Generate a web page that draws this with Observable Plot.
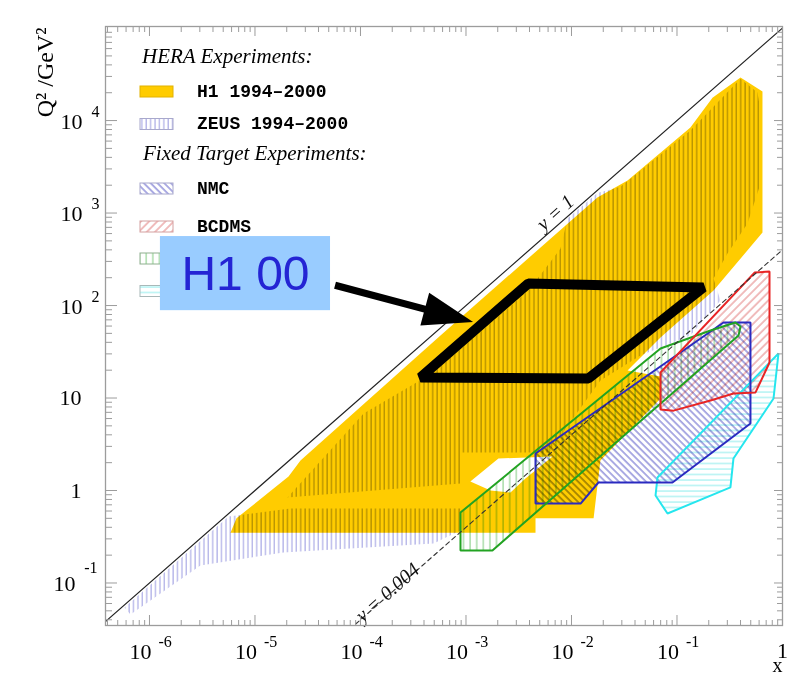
<!DOCTYPE html>
<html>
<head>
<meta charset="utf-8">
<script src="https://cdn.jsdelivr.net/npm/d3@7"></script>
<script src="https://cdn.jsdelivr.net/npm/@observablehq/plot@0.6"></script>
<style>
html, body { margin: 0; padding: 0; background: #fff; }
#chart svg { display: block; }
</style>
</head>
<body>
<div id="chart"></div>
<script>
// ---------------- data (x, Q^2 in GeV^2) ----------------
const xDomain = [3.83e-7, 1];
const yDomain = [0.0347, 1.04e5];

const h1Region = [[5.86e-6,0.35],[6.68e-6,0.50],[2.08e-5,1.42],[2.70e-5,2.11],[5.73e-4,47.4],[1.76e-2,1472],[0.034,2245],[0.134,8400],[0.217,17700],[0.400,29200],[0.646,20600],[0.646,615],[0.222,145],[0.0698,45.1],[0.034,19.8],[0.0698,17.1],[0.0698,9.88],[0.0188,2.11],[0.0162,0.50],[4.56e-3,0.50],[4.56e-3,0.35]];
const h1Gap = [[1.10e-3,1.25],[2.03e-3,2.22],[6.61e-3,2.33],[3.66e-3,1.35],[2.64e-3,0.95],[1.71e-3,1.0]];
const zeusUpper = [[2.03e-5,0.84],[1.07e-4,6.8],[4.92e-4,18.9],[3.91e-3,145],[7.87e-3,413],[9.16e-3,872],[0.0176,1650],[0.0291,1930],[0.134,7800],[0.400,28400],[0.579,20100],[0.619,12800],[0.619,2080],[0.466,770],[0.301,365],[0.222,196],[0.258,113],[0.134,47.4],[0.0451,28.8],[0.0188,15.5],[6.05e-3,2.58],[8.87e-4,2.58],[8.87e-4,1.19]];
const zeusLower = [[5.79e-7,0.0543],[5.61e-6,0.524],[2.17e-5,0.639],[8.87e-4,0.639],[8.87e-4,0.37],[4.92e-4,0.267],[1.86e-5,0.214],[3.04e-6,0.155],[6.61e-7,0.0456]];
const e665Region = [[8.87e-4,0.578],[0.0698,34.3],[0.113,41.9],[0.208,53.7],[0.358,65.5],[0.400,59.3],[0.383,47.4],[1.78e-3,0.225],[8.87e-4,0.225]];
const nmcRegion = [[4.56e-3,2.51],[0.276,65.5],[0.497,65.5],[0.497,5.3],[0.0906,1.22],[0.018,1.22],[0.0122,0.723],[4.56e-3,0.723]];
const bcdmsRegion = [[0.0698,18.9],[0.543,227],[0.753,233],[0.753,24.2],[0.555,11.5],[0.343,11.2],[0.208,9.4],[0.0927,7.3],[0.0698,7.5]];
const slacRegion = [[0.0653,1.38],[0.916,30.3],[0.822,9.88],[0.343,2.22],[0.321,1.08],[0.0813,0.564],[0.0626,0.883]];
const h1New = [[3.7e-4,16.7],[3.9e-3,173],[0.178,157],[0.0145,16.3]];

const lineY1 = [[3.6e-7,0.036],[1,1.0e5]];
const lineY0004 = [[9.0e-5,0.036],[1,400]];
const yLineLabelText = ["y = 1", "y = 0.004"];
const yLineLabelX = [7.05e-3, 1.8e-4];
const yLineLabelQ2 = [1011, 0.0789];

const h1Box = {x1: 1.27e-6, x2: 5.2e-5, q1: 88, q2: 557};
const h1BoxLabel = {x: 8.13e-6, q2: 215, text: "H1 00"};
const arrowFrom = [5.8e-5, 164];
const arrowTo = [1.18e-3, 65.5];

const xTickValues = [1e-6, 1e-5, 1e-4, 1e-3, 1e-2, 1e-1, 1];
const xTickBases = ["10","10","10","10","10","10","1"];
const xTickExps = ["-6","-5","-4","-3","-2","-1",""];
const yTickValues = [0.1, 1, 10, 100, 1000, 10000];
const yTickBases = ["10","1","10","10","10","10"];
const yTickExps = ["-1","","","2","3","4"];

const heraHeading = "HERA Experiments:";
const fixedHeading = "Fixed Target Experiments:";
const heraLabels = ["H1 1994\u20132000", "ZEUS 1994\u20132000"];
const fixedLabels = ["NMC", "BCDMS", "E665", "SLAC"];

const xTitle = "x";
const yTitle = "Q\u00B2 /GeV\u00B2";

// ---------------- helpers ----------------
const W = 794, H = 674;
const mT = 26, mR = 12, mB = 49, mL = 105;
const frameW = W - mL - mR, frameH = H - mT - mB;
const gray = "#9c9c9c";
const rows = (pts, name) => pts.map(([x, q2]) => ({x, q2, name}));

const xMinor = [], yMinor = [];
for (let e = -7; e <= -1; e++) for (let m = 2; m <= 9; m++) { const v = m * Math.pow(10, e); if (v > xDomain[0] && v < xDomain[1]) xMinor.push(v); }
for (let e = -2; e <= 4; e++) for (let m = 2; m <= 9; m++) { const v = m * Math.pow(10, e); if (v > yDomain[0] && v < yDomain[1]) yMinor.push(v); }
const xMajor = xTickValues.filter(v => v < 1);
const yMajor = yTickValues;

const xLab = xTickValues.map((v, i) => ({v, base: xTickBases[i], exp: xTickExps[i]}));
const yLab = yTickValues.map((v, i) => ({v, base: yTickBases[i], exp: yTickExps[i]}));
const lineLabels = yLineLabelText.map((t, i) => ({t, x: yLineLabelX[i], q2: yLineLabelQ2[i]}));

const hatch = {
  zeus: {id: "zeusHatch", w: 4.4, h: 10, rot: 0, d: "M1,0V10", c: "#9a9ae0"},
  nmc: {id: "nmcHatch", w: 4.8, h: 10, rot: -45, d: "M1,0V10", c: "#5b5bc8"},
  bcdms: {id: "bcdmsHatch", w: 5.8, h: 10, rot: 45, d: "M1,0V10", c: "#e27c7c"},
  e665: {id: "e665Hatch", w: 6.6, h: 10, rot: 0, d: "M1,0V10", c: "#7fca7f"},
  slac: {id: "slacHatch", w: 10, h: 5.5, rot: 0, d: "M0,1H10", c: "#8deded"}
};

function defsMark() {
  const g = d3.create("svg:g");
  const defs = g.append("defs");
  for (const k in hatch) {
    const p = hatch[k];
    const pat = defs.append("pattern").attr("id", p.id).attr("patternUnits", "userSpaceOnUse")
      .attr("width", p.w).attr("height", p.h);
    if (p.rot) pat.attr("patternTransform", `rotate(${p.rot})`);
    pat.append("path").attr("d", p.d).attr("stroke", p.c).attr("stroke-width", 1).attr("fill", "none");
  }
  return g.node();
}

function legendMark() {
  const g = d3.create("svg:g").attr("text-anchor", "start");
  const sx = 140, sw = 33, tx = 197;
  g.append("text").attr("x", 142).attr("y", 63).attr("font-family", "Liberation Serif")
    .attr("text-anchor", "start").attr("font-style", "italic").attr("font-size", 21).text(heraHeading);
  g.append("text").attr("x", 143).attr("y", 160).attr("font-family", "Liberation Serif")
    .attr("text-anchor", "start").attr("font-style", "italic").attr("font-size", 21).text(fixedHeading);
  const items = [
    {label: heraLabels[0], y: 86, fill: "#ffcc00", stroke: "#e2b200"},
    {label: heraLabels[1], y: 118.5, fill: `url(#${hatch.zeus.id})`, stroke: "#a8a8cc"},
    {label: fixedLabels[0], y: 183, fill: `url(#${hatch.nmc.id})`, stroke: "#a8a8cc"},
    {label: fixedLabels[1], y: 221, fill: `url(#${hatch.bcdms.id})`, stroke: "#d4a0a0"},
    {label: fixedLabels[2], y: 253, fill: `url(#${hatch.e665.id})`, stroke: "#8fb08f"},
    {label: fixedLabels[3], y: 285.5, fill: `url(#${hatch.slac.id})`, stroke: "#a8b8b8"}
  ];
  for (const it of items) {
    g.append("rect").attr("x", sx).attr("y", it.y).attr("width", sw).attr("height", 11)
      .attr("fill", "white").attr("stroke", "none");
    g.append("rect").attr("x", sx).attr("y", it.y).attr("width", sw).attr("height", 11)
      .attr("fill", it.fill).attr("stroke", it.stroke).attr("stroke-width", 1);
    g.append("text").attr("x", tx).attr("y", it.y + 10.5).attr("font-family", "Liberation Mono")
      .attr("text-anchor", "start").attr("font-weight", "bold").attr("font-size", 18).text(it.label);
  }
  return g.node();
}

function arrowMark(index, scales) {
  const x0 = scales.x(arrowFrom[0]), y0 = scales.y(arrowFrom[1]);
  const x1 = scales.x(arrowTo[0]), y1 = scales.y(arrowTo[1]);
  const dx = x1 - x0, dy = y1 - y0, len = Math.hypot(dx, dy);
  const ux = dx / len, uy = dy / len, nx = -uy, ny = ux;
  const headL = 50, headW = 17, shaftW = 3.6;
  const bx = x1 - ux * headL, by = y1 - uy * headL;
  const pts = [
    [x0 + nx * shaftW, y0 + ny * shaftW], [bx + nx * shaftW, by + ny * shaftW],
    [bx + nx * headW, by + ny * headW], [x1, y1],
    [bx - nx * headW, by - ny * headW], [bx - nx * shaftW, by - ny * shaftW],
    [x0 - nx * shaftW, y0 - ny * shaftW]
  ];
  return d3.create("svg:path").attr("d", "M" + pts.map(p => p.join(",")).join("L") + "Z")
    .attr("fill", "black").node();
}

const serif = "Liberation Serif";

const fillPoly = (pts, fill, extra = {}) =>
  Plot.line(rows(pts), {x: "x", y: "q2", fill, stroke: "none", curve: "linear-closed", ...extra});
const outlinePoly = (pts, stroke) =>
  Plot.line(rows(pts), {x: "x", y: "q2", stroke, strokeWidth: 2, fill: "none", curve: "linear-closed", strokeLinejoin: "miter"});

const chart = Plot.plot({
  width: W, height: H,
  marginTop: mT, marginRight: mR, marginBottom: mB, marginLeft: mL,
  x: {type: "log", domain: xDomain, axis: null},
  y: {type: "log", domain: yDomain, axis: null},
  style: {fontFamily: serif, background: "white", overflow: "visible"},
  marks: [
    defsMark,
    fillPoly(h1Region, "#ffcc00"),
    fillPoly(h1Gap, "white"),
    Plot.line([...rows(zeusUpper, "upper"), ...rows(zeusLower, "lower")],
      {x: "x", y: "q2", z: "name", fill: `url(#${hatch.zeus.id})`, stroke: "none", curve: "linear-closed", mixBlendMode: "multiply"}),
    fillPoly(nmcRegion, `url(#${hatch.nmc.id})`, {mixBlendMode: "multiply"}),
    fillPoly(bcdmsRegion, `url(#${hatch.bcdms.id})`, {mixBlendMode: "multiply"}),
    fillPoly(e665Region, `url(#${hatch.e665.id})`, {mixBlendMode: "multiply"}),
    fillPoly(slacRegion, `url(#${hatch.slac.id})`, {mixBlendMode: "multiply"}),
    outlinePoly(slacRegion, "#25e6ee"),
    outlinePoly(nmcRegion, "#2a2ac0"),
    outlinePoly(e665Region, "#22a322"),
    outlinePoly(bcdmsRegion, "#e82525"),
    Plot.line(rows(lineY1), {x: "x", y: "q2", stroke: "#222", strokeWidth: 1.2, clip: true}),
    Plot.line(rows(lineY0004), {x: "x", y: "q2", stroke: "#333", strokeWidth: 1.1, strokeDasharray: "4.5,3.5", clip: true}),
    Plot.text(lineLabels, {x: "x", y: "q2", text: "t", rotate: -41.5, fontStyle: "italic", fontSize: 20, fontFamily: serif, fill: "#111"}),
    // frame and ticks
    Plot.frame({stroke: gray, strokeWidth: 1.3}),
    Plot.ruleX(xMajor, {insetTop: frameH - 10, stroke: gray}),
    Plot.ruleX(xMinor, {insetTop: frameH - 5, stroke: gray}),
    Plot.ruleX(xMajor, {insetBottom: frameH - 10, stroke: gray}),
    Plot.ruleX(xMinor, {insetBottom: frameH - 6, stroke: gray}),
    Plot.ruleY(yMajor, {insetRight: frameW - 12, stroke: gray}),
    Plot.ruleY(yMinor, {insetRight: frameW - 7, stroke: gray}),
    Plot.ruleY(yMajor, {insetLeft: frameW - 8, stroke: gray}),
    Plot.ruleY(yMinor, {insetLeft: frameW - 5, stroke: gray}),
    // x tick labels
    Plot.text(xLab.filter(d => d.exp), {x: "v", text: "base", frameAnchor: "bottom", textAnchor: "end", lineAnchor: "bottom", dx: 2, dy: 33, fontSize: 22, fontFamily: serif, fill: "black"}),
    Plot.text(xLab.filter(d => d.exp), {x: "v", text: "exp", frameAnchor: "bottom", textAnchor: "start", lineAnchor: "bottom", dx: 9, dy: 21, fontSize: 16, fontFamily: serif, fill: "black"}),
    Plot.text(xLab.filter(d => !d.exp), {x: "v", text: "base", frameAnchor: "bottom", textAnchor: "middle", lineAnchor: "bottom", dy: 32, fontSize: 22, fontFamily: serif, fill: "black"}),
    // y tick labels
    Plot.text(yLab.filter(d => d.exp.length === 1), {y: "v", text: "base", frameAnchor: "left", textAnchor: "end", lineAnchor: "bottom", dx: -23, dy: 8, fontSize: 22, fontFamily: serif, fill: "black"}),
    Plot.text(yLab.filter(d => d.exp.length === 2), {y: "v", text: "base", frameAnchor: "left", textAnchor: "end", lineAnchor: "bottom", dx: -30, dy: 8, fontSize: 22, fontFamily: serif, fill: "black"}),
    Plot.text(yLab.filter(d => !d.exp), {y: "v", text: "base", frameAnchor: "left", textAnchor: "end", lineAnchor: "bottom", dx: -24, dy: 7, fontSize: 22, fontFamily: serif, fill: "black"}),
    Plot.text(yLab.filter(d => d.exp.length === 1), {y: "v", text: "exp", frameAnchor: "left", textAnchor: "end", lineAnchor: "bottom", dx: -6, dy: -4, fontSize: 16, fontFamily: serif, fill: "black"}),
    Plot.text(yLab.filter(d => d.exp.length === 2), {y: "v", text: "exp", frameAnchor: "left", textAnchor: "end", lineAnchor: "bottom", dx: -8, dy: -10, fontSize: 16, fontFamily: serif, fill: "black"}),
    // axis titles
    Plot.text([yTitle], {frameAnchor: "top-left", rotate: -90, textAnchor: "end", lineAnchor: "bottom", dx: -53, dy: 1, fontSize: 24, fontFamily: serif, fill: "black"}),
    Plot.text([xTitle], {frameAnchor: "bottom-right", textAnchor: "end", lineAnchor: "bottom", dy: 46, fontSize: 20, fontFamily: serif, fill: "black"}),
    // legend
    legendMark,
    // H1 00 annotation
    Plot.line(rows(h1New), {x: "x", y: "q2", stroke: "black", strokeWidth: 10, fill: "none", curve: "linear-closed", strokeLinejoin: "miter"}),
    Plot.rect([h1Box], {x1: "x1", x2: "x2", y1: "q1", y2: "q2", fill: "#99ccff"}),
    Plot.text([h1BoxLabel], {x: "x", y: "q2", text: "text", fontFamily: "Liberation Sans", fontSize: 48, fill: "#2424d4"}),
    arrowMark
  ]
});
document.getElementById("chart").appendChild(chart);
</script>
</body>
</html>
